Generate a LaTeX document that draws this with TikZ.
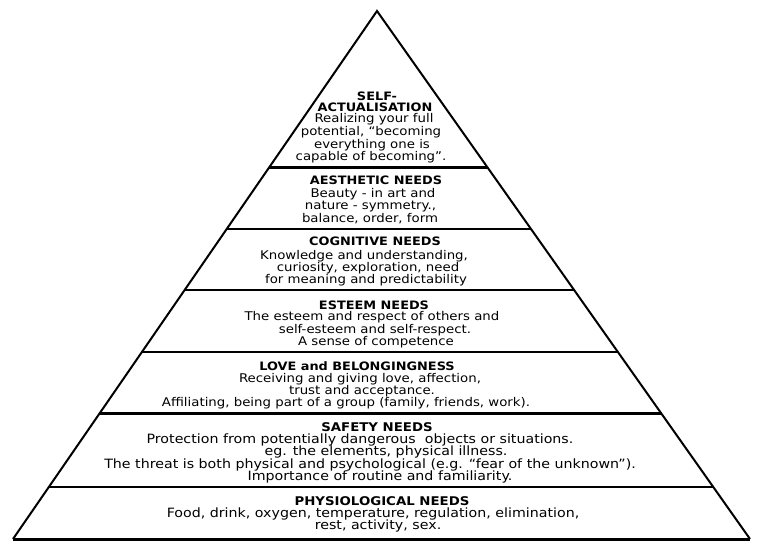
\documentclass[tikz,border=0pt]{standalone}
\usepackage{fontspec}
\setmainfont{DejaVu Sans}[FakeStretch=1.11]
\usetikzlibrary{calc}
\begin{document}
\begin{tikzpicture}[x=1pt,y=-1pt,
  side/.style={line width=2pt},
  thin tier/.style={line width=1.4pt},
  mid tier/.style={line width=2.2pt},
  thick tier/.style={line width=3pt},
  txt/.style={inner sep=0pt, anchor=base, font=\fontsize{12}{14}\selectfont},
  ttl/.style={inner sep=0pt, anchor=base, font=\bfseries\fontsize{11.6}{14}\selectfont},
  lowtxt/.style={inner sep=0pt, anchor=base, font=\fontsize{12.8}{14}\selectfont},
  lowttl/.style={inner sep=0pt, anchor=base, font=\bfseries\fontsize{12}{14}\selectfont}]
\useasboundingbox (0,0) rectangle (766,545);
\fill[white] (0,0) rectangle (766,545);
\coordinate (apex) at (377,11);
\coordinate (bl) at (13,539);
\coordinate (br) at (750,539);
% tier boundaries
\foreach \n/\y in {a/168,b/229,c/290,d/352,e/414,f/487}{
  \coordinate (L\n) at ($(apex)!{(\y-11)/528}!(bl)$);
  \coordinate (R\n) at ($(apex)!{(\y-11)/528}!(br)$);
}
\draw[side, line join=miter] (bl) -- (apex) -- (br);
\draw[thick tier] (bl) -- (br);
\draw[thick tier] (La) -- (Ra);
\draw[thin tier] (Lb) -- (Rb);
\draw[thin tier] (Lc) -- (Rc);
\draw[mid tier] (Ld) -- (Rd);
\draw[thick tier] (Le) -- (Re);
\draw[mid tier] (Lf) -- (Rf);
% self-actualisation
\node[ttl] (s1) at (377,101) {SELF-};
\node[ttl] (s2) at (375,111.5) {ACTUALISATION};
\node[txt] (s3) at (374,122.5) {Realizing your full};
\node[txt] (s4) at (371,135.5) {potential, “becoming};
\node[txt] (s5) at (372,148.5) {everything one is};
\node[txt] (s6) at (371,161) {capable of becoming”.};
% aesthetic
\node[ttl] (a1) at (376,185) {AESTHETIC NEEDS};
\node[txt] (a2) at (373,198) {Beauty - in art and};
\node[txt] (a3) at (370.5,210) {nature - symmetry.,};
\node[txt] (a4) at (370,222.5) {balance, order, form};
% cognitive
\node[ttl] (c1) at (375,246) {COGNITIVE NEEDS};
\node[txt] (c2) at (364,260) {Knowledge and understanding,};
\node[txt] (c3) at (368,271.5) {curiosity, exploration, need};
\node[txt] (c4) at (366,283.5) {for meaning and predictability};
% esteem
\node[ttl] (e1) at (374,309.2) {ESTEEM NEEDS};
\node[txt] (e2) at (372,321) {The esteem and respect of others and};
\node[txt] (e3) at (375,333.5) {self-esteem and self-respect.};
\node[txt] (e4) at (376,346) {A sense of competence};
% love
\node[ttl] (l1) at (357,370.2) {LOVE and BELONGINGNESS};
\node[txt] (l2) at (360,382.5) {Receiving and giving love, affection,};
\node[txt] (l3) at (362,394.2) {trust and acceptance.};
\node[txt] (l4) at (346,406.5) {Affiliating, being part of a group (family, friends, work).};
% safety
\node[lowttl] (f1) at (377,431.5) {SAFETY NEEDS};
\node[lowtxt] (f2) at (360,443.2) {Protection from potentially dangerous\ \ objects or situations.};
\node[lowtxt] (f3) at (386,455.9) {eg. the elements, physical illness.};
\node[lowtxt] (f4) at (370,468.5) {The threat is both physical and psychological (e.g. “fear of the unknown”).};
\node[lowtxt] (f5) at (380,480.9) {Importance of routine and familiarity.};
% physiological
\node[lowttl] (p1) at (382,505.9) {PHYSIOLOGICAL NEEDS};
\node[lowtxt] (p2) at (373,517.5) {Food, drink, oxygen, temperature, regulation, elimination,};
\node[lowtxt] (p3) at (378,529.2) {rest, activity, sex.};
\end{tikzpicture}
\end{document}
